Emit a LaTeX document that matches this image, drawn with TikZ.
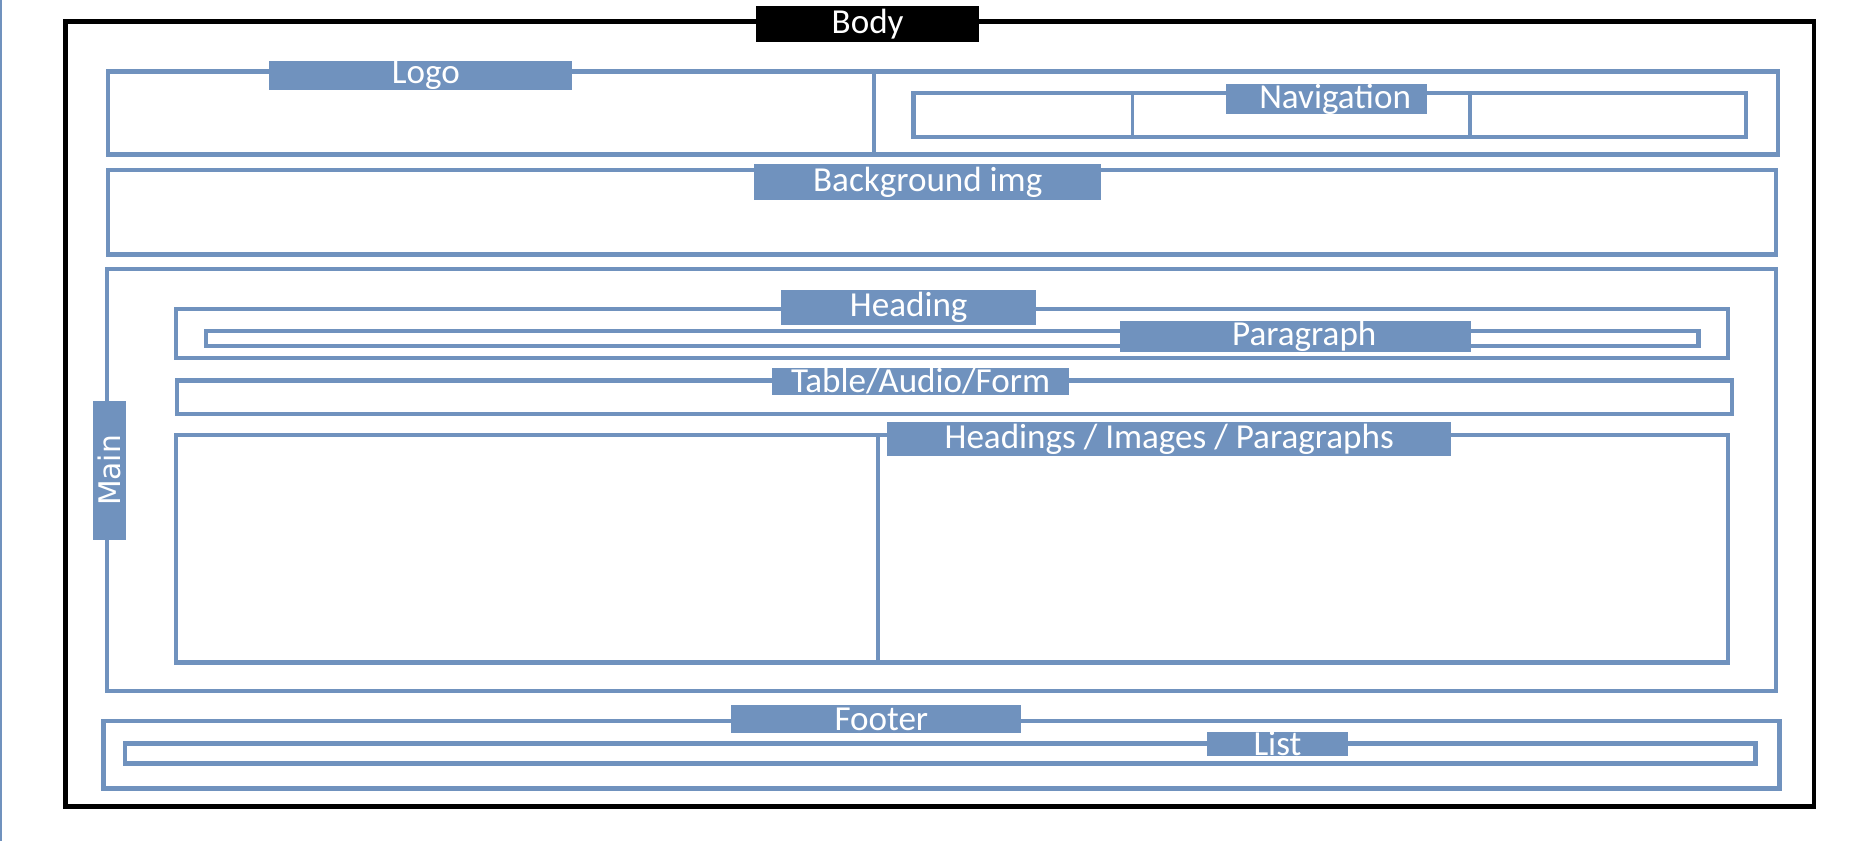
\documentclass[tikz,border=0pt]{standalone}
\usepackage{fontspec}
\setmainfont{Carlito}
\newfontfamily\mainlblfont{DejaVu Sans}
\definecolor{boxblue}{RGB}{112,146,190}
\tikzset{
	frame/.style={draw=boxblue, line width=3.6pt},
	split/.style={draw=boxblue, line width=3pt},
	tag/.style={fill=boxblue, text=white, inner sep=0pt, font=\fontsize{29.5}{31}\selectfont},
}

\begin{document}
\begin{tikzpicture}[x=1pt, y=-1pt]
	%%%%% START %%%%%
	\useasboundingbox (0, 0) rectangle (1568, 707);
	\fill[white] (0, 0) rectangle (1568, 707);
	\draw[boxblue, line width=1.5pt] (0.75, 0) -- (0.75, 707);
	
	% body
	\draw[line width=4pt] (55, 18) rectangle (1525, 678);
	\node[fill=black, text=white, inner sep=0pt, minimum width=187pt, minimum height=30pt, font=\fontsize{29.5}{31}\selectfont] (body) at (729.5, 20) {Body};
	
	% header: logo and navigation
	\draw[frame] (91, 60) rectangle (1495, 130);
	\draw[split] (735, 60) -- (735, 130);
	\draw[frame] (768, 78) rectangle (1468, 115);
	\draw[split] (952, 78) -- (952, 115);
	\draw[split] (1236, 78) -- (1236, 115);
	\node[tag, minimum width=255pt, minimum height=23pt] (logo) at (353.5, 63.5) {\hspace{9pt}Logo};
	\node[tag, minimum width=169pt, minimum height=25pt] (nav) at (1115.5, 83.5) {\hspace{14pt}Navigation};
	
	% background image
	\draw[frame] (91, 143) rectangle (1493, 214);
	\node[tag, minimum width=292pt, minimum height=30pt] (bgimg) at (780, 153) {Background img};
	
	% main
	\draw[frame] (90, 226) rectangle (1493, 581);
	\node[tag, rotate=90, minimum width=117pt, minimum height=28pt, font=\mainlblfont\fontsize{25}{27}\selectfont] (main) at (92, 395.5) {Main};
	
	\draw[frame] (148, 260) rectangle (1453, 301);
	\draw[frame] (173, 278) rectangle (1428, 291);
	\node[tag, minimum width=214pt, minimum height=29pt] (heading) at (764, 258.5) {Heading};
	\node[tag, minimum width=295pt, minimum height=22pt] (para) at (1089.5, 283) {\hspace{14pt}Paragraph};
	
	\draw[frame] (149, 320) rectangle (1456, 348);
	\node[tag, minimum width=250pt, minimum height=23pt] (tableform) at (774, 320.5) {Table/Audio/Form};
	
	\draw[frame] (148, 366) rectangle (1453, 557);
	\draw[split] (738, 366) -- (738, 557);
	\node[tag, minimum width=474pt, minimum height=28pt] (content) at (983, 369) {Headings / Images / Paragraphs};
	
	% footer
	\draw[frame] (87, 606) rectangle (1496, 663);
	\draw[frame] (105, 625) rectangle (1476, 642);
	\node[tag, minimum width=243pt, minimum height=23pt] (footer) at (736.5, 604.5) {\hspace{9pt}Footer};
	\node[tag, minimum width=118pt, minimum height=19pt] (list) at (1074, 625.5) {List};
	%%%%% END %%%%%
\end{tikzpicture}
\end{document}
